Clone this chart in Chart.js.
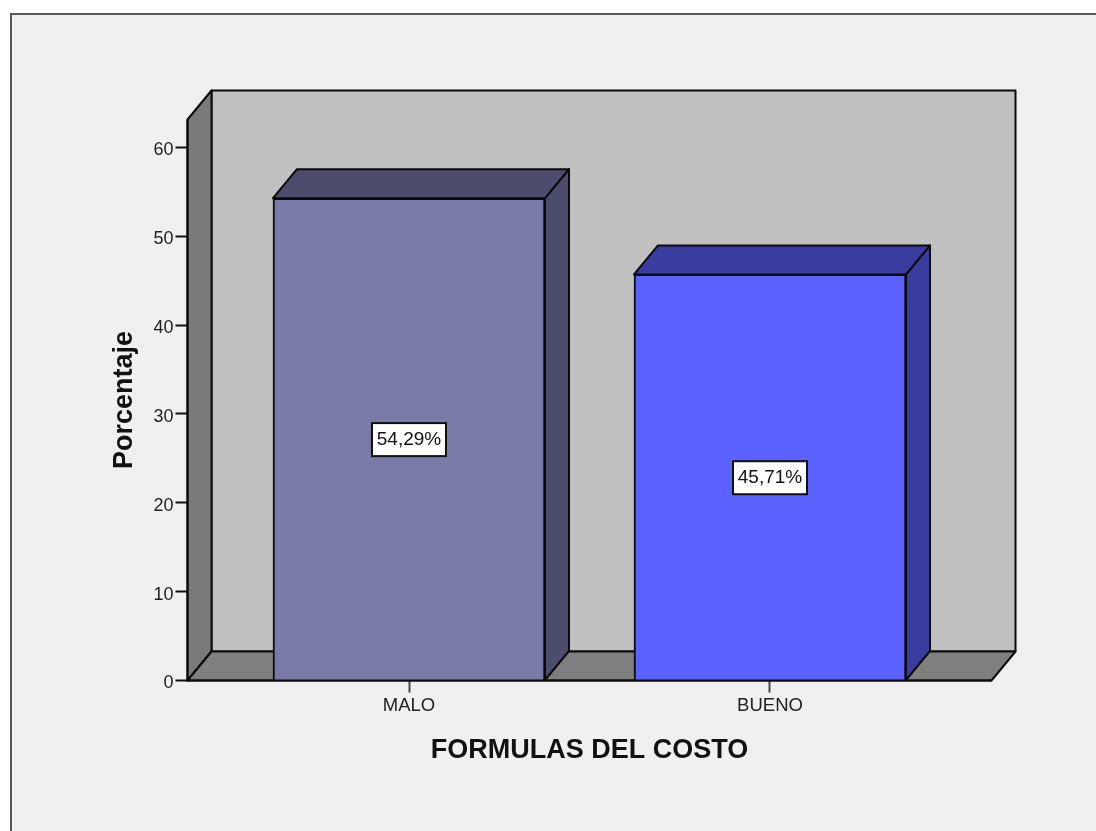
<!DOCTYPE html>
<html>
<head>
<meta charset="utf-8">
<title>FORMULAS DEL COSTO</title>
<script src="https://cdn.jsdelivr.net/npm/chart.js@4/dist/chart.umd.min.js"></script>
<style>
    html, body { margin: 0; padding: 0; background: #fff; overflow: hidden; }
    canvas { display: block; }
</style>
</head>
<body>
<canvas id="chart" width="1096" height="831"></canvas>
<script>
const categories = ['MALO', 'BUENO'];
const percentages = [54.29, 45.71];
const percentLabels = ['54,29%', '45,71%'];
const yTicks = [0, 10, 20, 30, 40, 50, 60];

const frontColors = ['#7a7aa8', '#5c62ff'];
const shadeColors = ['#4c4c6c', '#3a3d9f'];

// profondeur du faux 3D
const DX = 24;
const DY = -29;

function poly(ctx, pts, fill, stroke) {
    ctx.beginPath();
    pts.forEach((p, i) => i ? ctx.lineTo(p[0], p[1]) : ctx.moveTo(p[0], p[1]));
    ctx.closePath();
    ctx.fillStyle = fill;
    ctx.fill();
    ctx.lineWidth = 2;
    ctx.lineJoin = 'round';
    ctx.strokeStyle = stroke || '#0a0a0a';
    ctx.stroke();
}

const framePlugin = {
    id: 'frame',
    beforeDraw(chart) {
        const ctx = chart.ctx;
        ctx.save();
        ctx.fillStyle = '#f0f0f0';
        ctx.fillRect(11, 13, 1096, 830);
        ctx.strokeStyle = '#5a5a5a';
        ctx.lineWidth = 2;
        ctx.strokeRect(11, 14, 1100, 830);
        ctx.restore();
    }
};

const box3dPlugin = {
    id: 'box3d',
    beforeDatasetsDraw(chart) {
        const ctx = chart.ctx;
        const a = chart.chartArea;
        ctx.save();
        // murs et sol
        poly(ctx, [[a.left + DX, a.top + DY], [a.right + DX, a.top + DY], [a.right + DX, a.bottom + DY], [a.left + DX, a.bottom + DY]], '#c0c0c0');
        poly(ctx, [[a.left, a.top], [a.left + DX, a.top + DY], [a.left + DX, a.bottom + DY], [a.left, a.bottom]], '#7a7a7a');
        poly(ctx, [[a.left, a.bottom], [a.left + DX, a.bottom + DY], [a.right + DX, a.bottom + DY], [a.right, a.bottom]], '#7f7f7f');
        // faces haut et droite des barres
        chart.getDatasetMeta(0).data.forEach((bar, i) => {
            const l = bar.x - bar.width / 2;
            const r = bar.x + bar.width / 2;
            poly(ctx, [[r, bar.y], [r + DX, bar.y + DY], [r + DX, bar.base + DY], [r, bar.base]], shadeColors[i]);
            poly(ctx, [[l, bar.y], [l + DX, bar.y + DY], [r + DX, bar.y + DY], [r, bar.y]], shadeColors[i]);
        });
        ctx.restore();
    },
    afterDatasetsDraw(chart) {
        const ctx = chart.ctx;
        ctx.save();
        ctx.font = '19px "Liberation Sans"';
        ctx.textAlign = 'center';
        ctx.textBaseline = 'middle';
        chart.getDatasetMeta(0).data.forEach((bar, i) => {
            const cy = (bar.y + bar.base) / 2;
            ctx.fillStyle = '#fff';
            ctx.strokeStyle = '#111';
            ctx.lineWidth = 2;
            ctx.fillRect(bar.x - 37, cy - 16, 74, 33);
            ctx.strokeRect(bar.x - 37, cy - 16, 74, 33);
            ctx.fillStyle = '#111';
            ctx.fillText(percentLabels[i], bar.x, cy + 1);
        });
        // axe vertical et ligne de base
        const a = chart.chartArea;
        ctx.strokeStyle = '#0a0a0a';
        ctx.beginPath();
        ctx.moveTo(a.left, a.top);
        ctx.lineTo(a.left, a.bottom);
        ctx.lineTo(a.right, a.bottom);
        ctx.stroke();
        ctx.restore();
    }
};

new Chart(document.getElementById('chart'), {
    type: 'bar',
    plugins: [framePlugin, box3dPlugin],
    data: {
        datasets: [{
            data: categories.map((c, i) => ({ x: i, y: percentages[i] })),
            backgroundColor: frontColors,
            borderColor: '#0a0a0a',
            borderWidth: 2,
            barThickness: 272
        }]
    },
    options: {
        responsive: false,
        animation: false,
        layout: { padding: { top: 119.5, right: 104.5, left: 0, bottom: 0 } },
        plugins: { legend: { display: false }, tooltip: { enabled: false } },
        scales: {
            x: {
                type: 'linear',
                offset: false,
                min: -0.6136,
                max: 1.6136,
                afterFit: s => { s.height = 150.5; },
                afterBuildTicks: s => { s.ticks = categories.map((c, i) => ({ value: i })); },
                grid: { offset: false, drawOnChartArea: false, drawTicks: true, tickLength: 12, tickColor: '#444', tickWidth: 2 },
                border: { display: false },
                ticks: {
                    color: '#222',
                    font: { family: '"Liberation Sans"', size: 18.5 },
                    padding: 2,
                    maxRotation: 0,
                    autoSkip: false,
                    callback: v => categories[v]
                },
                title: {
                    display: true,
                    text: 'FORMULAS DEL COSTO',
                    color: '#111',
                    font: { family: '"Liberation Sans"', size: 27, weight: 'bold' },
                    padding: { top: 0, bottom: 64 }
                }
            },
            y: {
                min: 0,
                max: 63.15,
                afterFit: s => { s.width = 187.5; },
                afterBuildTicks: s => { s.ticks = yTicks.map(v => ({ value: v })); },
                grid: { drawOnChartArea: false, drawTicks: true, tickLength: 12, tickColor: '#111', tickWidth: 2 },
                border: { display: false },
                ticks: {
                    color: '#222',
                    font: { family: '"Liberation Sans"', size: 18 },
                    padding: 2,
                    labelOffset: 3
                },
                title: {
                    display: true,
                    text: 'Porcentaje',
                    color: '#111',
                    font: { family: '"Liberation Sans"', size: 27, weight: 'bold' },
                    padding: { top: 108, bottom: 0 }
                }
            }
        }
    }
});
</script>
</body>
</html>
